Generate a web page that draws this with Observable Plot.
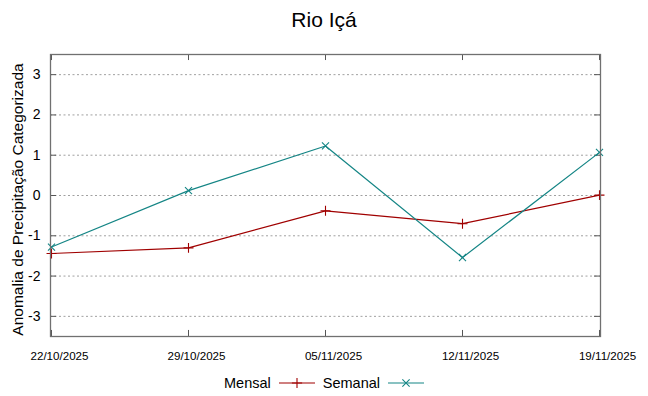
<!DOCTYPE html>
<html>
<head>
<meta charset="utf-8">
<script src="https://cdn.jsdelivr.net/npm/d3@7"></script>
<script src="https://cdn.jsdelivr.net/npm/@observablehq/plot@0.6"></script>
<style>
  body { margin: 0; background: #fff; font-family: "Liberation Sans", Arial, sans-serif; }
  #title { width: 648px; height: 40px; line-height: 39px; text-align: center; font-size: 21px; color: #000; }
  #legend { width: 648px; height: 26px; display: flex; justify-content: center; align-items: center; font-size: 14.5px; color: #000; }
  #legend span { display: inline-flex; align-items: center; }
  svg { overflow: visible; }
</style>
</head>
<body>
<div id="title">Rio Içá</div>
<div id="chart"></div>
<div id="legend"></div>
<script>
const dates = ["22/10/2025", "29/10/2025", "05/11/2025", "12/11/2025", "19/11/2025"];
const mensal = [-1.44, -1.30, -0.38, -0.70, 0.01];
const semanal = [-1.28, 0.12, 1.23, -1.54, 1.07];
const yTicks = [-3, -2, -1, 0, 1, 2, 3];
const seriesNames = ["Mensal", "Semanal"];
const seriesColors = ["#a00000", "#148585"];
const seriesSymbols = ["plus", "times"];

const rows = [];
dates.forEach((d, i) => {
  rows.push({date: d, value: mensal[i], series: "Mensal"});
  rows.push({date: d, value: semanal[i], series: "Semanal"});
});

const plot = Plot.plot({
  width: 648,
  height: 330,
  marginTop: 14,
  marginBottom: 34,
  marginLeft: 50,
  marginRight: 48,
  style: {fontFamily: '"Liberation Sans", Arial, sans-serif', background: "#fff", overflow: "visible"},
  x: {type: "point", domain: dates, padding: 0},
  y: {domain: [-3.5, 3.5]},
  color: {domain: seriesNames, range: seriesColors},
  symbol: {domain: seriesNames, range: seriesSymbols},
  marks: [
    Plot.ruleY(yTicks, {y: d => d, stroke: "#a0a0a0", strokeWidth: 1, strokeDasharray: "2,2.5"}),
    Plot.tickY(yTicks, {y: d => d, stroke: "#555", insetRight: 544}),
    Plot.tickY(yTicks, {y: d => d, stroke: "#555", insetLeft: 544}),
    Plot.ruleX(dates, {x: d => d, y1: -3.5, y2: -3.35, stroke: "#555"}),
    Plot.ruleX(dates, {x: d => d, y1: 3.5, y2: 3.35, stroke: "#555"}),
    Plot.line(rows, {x: "date", y: "value", z: "series", stroke: "series", strokeWidth: 1.2}),
    Plot.dot(rows, {x: "date", y: "value", symbol: "series", stroke: "series", r: 3.3, strokeWidth: 1.1}),
    Plot.frame({stroke: "#707070", strokeWidth: 1.3}),
    Plot.axisX({tickSize: 0, tickPadding: 15, dx: 8, fontSize: 11.6, label: null, color: "#000"}),
    Plot.axisY({ticks: yTicks, tickSize: 0, tickPadding: 10, fontSize: 14, label: null, tickFormat: d => d < 0 ? "-" + Math.abs(d) : String(d)}),
    Plot.text(["Anomalia de Precipitação Categorizada"], {frameAnchor: "left", textAnchor: "middle", dx: -32, dy: 4, rotate: -90, fontSize: 15.5, fill: "#000"})
  ]
});
document.getElementById("chart").appendChild(plot);

// legend
const legend = d3.select("#legend");
seriesNames.forEach((name, i) => {
  const item = legend.append("span").style("margin", "0 4px");
  item.append("span").text(name).style("margin-right", "8px");
  const s = item.append("svg").attr("width", 36).attr("height", 12);
  s.append("line").attr("x1", 0).attr("x2", 36).attr("y1", 6).attr("y2", 6).attr("stroke", seriesColors[i]).attr("stroke-width", 1.2);
  s.append("path").attr("transform", "translate(18,6)")
    .attr("d", d3.symbol(i === 0 ? d3.symbolPlus : d3.symbolTimes, 36)())
    .attr("fill", "none").attr("stroke", seriesColors[i]).attr("stroke-width", 1.1);
});
</script>
</body>
</html>
